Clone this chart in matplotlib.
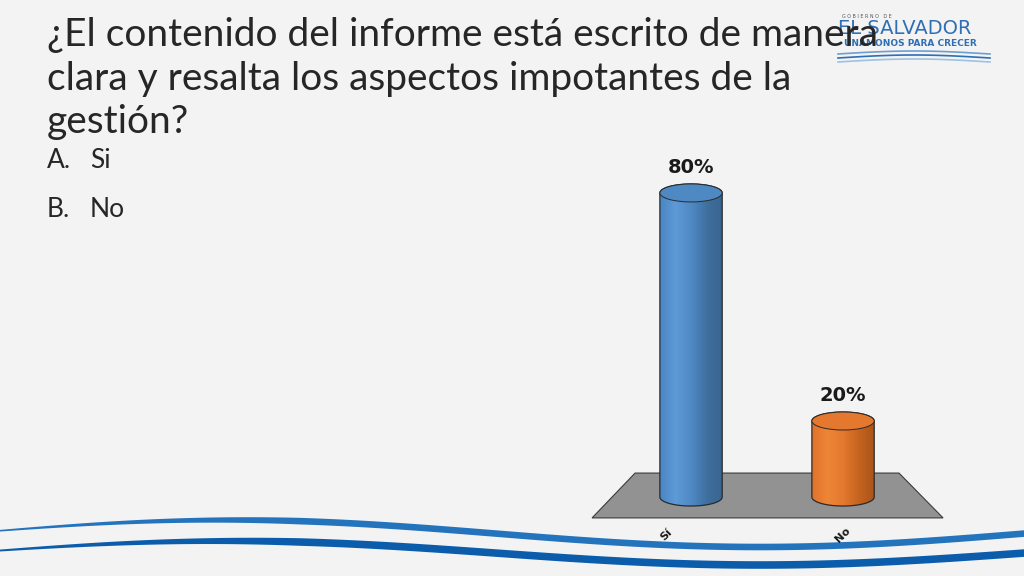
import numpy as np
import matplotlib
matplotlib.use("Agg")
import matplotlib.pyplot as plt
from matplotlib.patches import Polygon, Ellipse
from matplotlib.colors import LinearSegmentedColormap

# data
categories = ["Sí", "No"]
values = [0.80, 0.20]
title = ("¿El contenido del informe está escrito de manera\n"
         "clara y resalta los aspectos impotantes de la\n"
         "gestión?")
options = ["A.", "B."]
option_text = ["Si", "No"]

bar_colors = [["#4a86c5", "#5d9ad6", "#4f89c4", "#3f6f9e", "#39648f"],
              ["#e0732c", "#ef8636", "#e3782e", "#c4631f", "#a9531a"]]

fig = plt.figure(figsize=(10.24, 5.76), dpi=100)
fig.patch.set_facecolor("#f3f3f3")

# background layer in pixel coords (waves + logo)
bg = fig.add_axes([0, 0, 1, 1])
bg.set_xlim(0, 1024)
bg.set_ylim(576, 0)
bg.axis("off")

xs = np.linspace(0, 1024, 400)
ph = np.cos(2 * np.pi * (xs - 230) / 1060)
taper = 0.25 + 0.75 * np.clip(xs / 300, 0, 1)
y1 = 533.5 - 13.5 * ph
y2 = 553 - 12 * ph
bg.fill_between(xs, y1 - 3.3 * taper, y1 + 3.3 * taper, color="#2473bd", lw=0)
bg.fill_between(xs, y2 - 3.8 * taper, y2 + 3.8 * taper, color="#0b5dab", lw=0)

# logo (the title runs over it, as in the slide)
bg.text(842, 17, "G O B I E R N O   D E", fontsize=3.5, color="#555555", va="center")
bg.text(838, 29, "EL SALVADOR", fontsize=14, color="#2f6fb3", va="center")
bg.text(844, 44, "UNÁMONOS PARA CRECER", fontsize=6.5, color="#2f6fb3",
        fontweight="bold", va="center")
lx = np.linspace(838, 990, 100)
for off, c in [(0, "#6aa0d4"), (4, "#2f6fb3"), (8, "#9cc2e6")]:
    bg.plot(lx, 54 + off - 3 * np.sin((lx - 838) / 152 * np.pi), color=c, lw=1.2)

# title and options
fig.text(47 / 1024, 1 - 17 / 576, title, fontsize=28, family="Lato",
         color="#262626", va="top", ha="left", linespacing=1.26)
for k, (a, t) in enumerate(zip(options, option_text)):
    yy = 1 - (160 + 50 * k) / 576
    fig.text(47 / 1024, yy, a, fontsize=19, family="Lato", color="#262626", va="center")
    fig.text(90 / 1024, yy, t, fontsize=19, family="Lato", color="#262626", va="center")

# chart
ax = fig.add_axes([560 / 1024, 46 / 576, 420 / 1024, 380 / 576])
ax.set_xlim(-0.862, 1.901)
ax.set_ylim(-0.0868, 0.913)
ax.axis("off")

n = len(categories)
floor = Polygon([(-0.651, -0.055), (n - 1 + 0.658, -0.055),
                 (n - 1 + 0.368, 0.063), (-0.368, 0.063)],
                closed=True, facecolor="#929292", edgecolor="#3a3a3a", lw=0.8)
ax.add_patch(floor)

w = 0.41
eh = 0.0237
th_lo = np.linspace(np.pi, 2 * np.pi, 60)
th_hi = np.linspace(0, np.pi, 60)
for i, (cat, v) in enumerate(zip(categories, values)):
    pts = np.vstack([
        np.column_stack([i + w / 2 * np.cos(th_lo), eh * np.sin(th_lo)]),
        np.column_stack([i + w / 2 * np.cos(th_hi), v + eh * np.sin(th_hi)]),
    ])
    body = Polygon(pts, closed=True, facecolor="none", edgecolor="#2a2a2a", lw=0.9, zorder=3)
    ax.add_patch(body)
    cmap = LinearSegmentedColormap.from_list("g%d" % i, bar_colors[i])
    grad = np.linspace(0, 1, 256).reshape(1, -1)
    im = ax.imshow(grad, cmap=cmap, aspect="auto", zorder=2,
                   extent=[i - w / 2, i + w / 2, -eh, v + eh])
    im.set_clip_path(body)
    top = Ellipse((i, v), w, 2 * eh, facecolor=bar_colors[i][2],
                  edgecolor="#2a2a2a", lw=0.7, zorder=4)
    ax.add_patch(top)
    ax.text(i, v + 0.068, f"{v:.0%}", ha="center", va="center", fontsize=14,
            fontweight="bold", color="#1a1a1a", zorder=5)

label_shift = [-0.16, 0.0]
for i, cat in enumerate(categories):
    ax.text(i + label_shift[i], -0.1, cat, rotation=45, ha="center", va="center",
            fontsize=8, fontweight="bold", color="#1a1a1a", clip_on=False)

ax.set_xlim(-0.862, 1.901)
ax.set_ylim(-0.0868, 0.913)

fig.savefig("out.png", dpi=100, facecolor=fig.get_facecolor())
